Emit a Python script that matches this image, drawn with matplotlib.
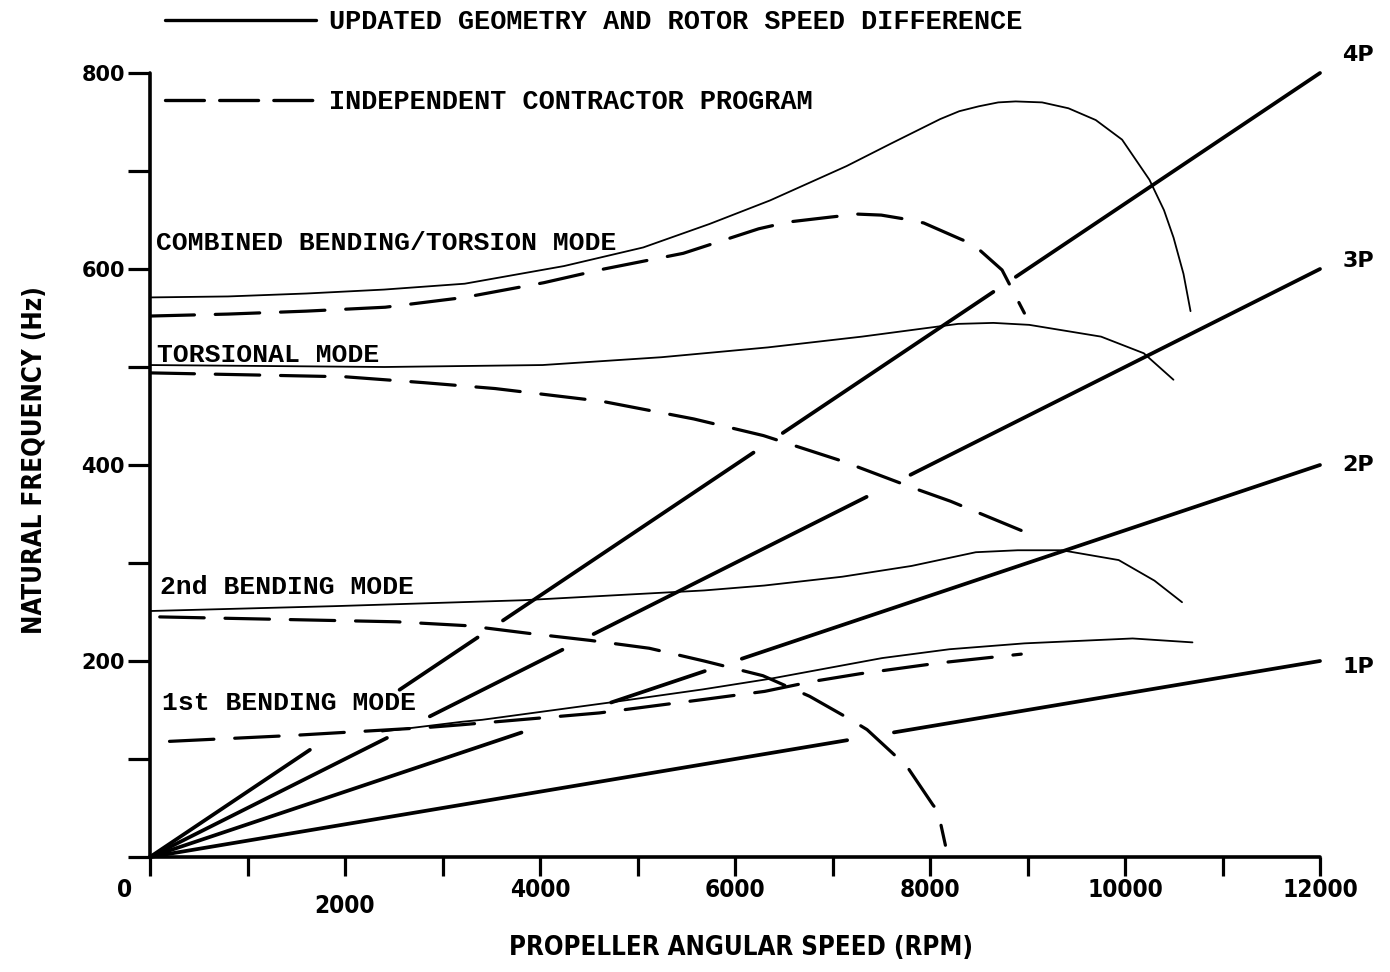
import matplotlib
matplotlib.use("Agg")
import matplotlib.pyplot as plt
from matplotlib import font_manager
from matplotlib.lines import Line2D
from matplotlib.transforms import ScaledTranslation

plt.rcParams['lines.scale_dashes'] = False

# ---------------------------------------------------------------- data
rpm_ticks = list(range(0, 12001, 1000))
rpm_tick_labels = ['0', '', '2000', '', '4000', '', '6000', '', '8000', '', '10000', '', '12000']
hz_ticks = list(range(0, 801, 100))
hz_tick_labels = ['', '', '200', '', '400', '', '600', '', '800']

# excitation orders (n per rev) and the RPM spans where each ray is inked
orders = [1, 2, 3, 4]
order_labels = ['1P', '2P', '3P', '4P']
order_spans = {
    1: [(0, 7150), (7630, 12000)],
    2: [(0, 3810), (4730, 5690), (6070, 12000)],
    3: [(0, 2430), (2870, 4230), (4550, 7350), (7800, 12000)],
    4: [(0, 1640), (2560, 3360), (3620, 6190), (6490, 8650), (8880, 12000)],
}

# updated geometry and rotor speed difference (solid)
comb_rpm = [0, 800, 1605, 2400, 3228, 4246, 5059, 5740, 6360, 7144, 7600, 8105,
            8300, 8500, 8700, 8878, 9150, 9420, 9700, 9970, 10251, 10400, 10498,
            10600, 10672]
comb_hz = [571, 572, 575, 579, 585, 603, 622, 646, 670, 705, 728, 753,
           761, 766, 770, 771, 770, 764, 752, 732, 691, 660, 632,
           595, 557]
tors_rpm = [0, 2404, 4026, 5248, 6337, 7302, 8289, 8650, 9018, 9754, 10193, 10497]
tors_hz = [502, 500, 502, 510, 520, 531, 544, 545, 543, 531, 514, 487]
bend2_rpm = [0, 1900, 3825, 5684, 6300, 7100, 7811, 8470, 8900, 9353, 9935, 10302, 10585]
bend2_hz = [251, 256, 262, 272, 277, 286, 297, 311, 313, 313, 303, 282, 260]
bend1_rpm = [2380, 3201, 3407, 4743, 5668, 6368, 7510, 8200, 8969, 10078, 10692]
bend1_hz = [128, 138, 140, 158, 171, 182, 203, 212, 218, 223, 219]

# independent contractor program (dashed)
comb_ic_rpm = [0, 800, 1602, 2413, 3225, 4038, 4656, 5469, 6242, 6551, 6982, 7260,
               7500, 7741, 7935, 8302, 8445, 8739, 8968]
comb_ic_hz = [552, 554, 557, 561, 571, 586, 600, 616, 641, 648, 653, 656,
              655, 651, 647, 631, 625, 599, 555]
tors_ic_rpm = [0, 2003, 2812, 3540, 4636, 5577, 6292, 7099, 7844, 8211, 8965]
tors_ic_hz = [494, 490, 484, 478, 465, 447, 430, 404, 376, 363, 332]
bend2_ic_rpm = [100, 2529, 3257, 3902, 4517, 5121, 5683, 6286, 6765, 7172, 7354,
                7659, 7780, 8031, 8081, 8158]
bend2_ic_hz = [245, 240, 236, 228, 221, 213, 200, 185, 164, 141, 130,
               102, 90, 53, 47, 12]
bend1_ic_rpm = [200, 1455, 2820, 3201, 4608, 5697, 6304, 6788, 7282, 8093, 8936]
bend1_ic_hz = [118, 124, 132, 135, 147, 161, 169, 179, 187, 198, 207]

mode_labels = ['COMBINED BENDING/TORSION MODE', 'TORSIONAL MODE',
               '2nd BENDING MODE', '1st BENDING MODE']
mode_label_rpm = [60, 70, 100, 120]
mode_label_hz = [627, 512, 276, 157]

legend_labels = ['UPDATED GEOMETRY AND ROTOR SPEED DIFFERENCE',
                 'INDEPENDENT CONTRACTOR PROGRAM']

# ---------------------------------------------------------------- fonts
installed = {f.name for f in font_manager.fontManager.ttflist}
narrow = 'Liberation Sans Narrow' if 'Liberation Sans Narrow' in installed else None
if narrow:
    narrow_font = dict(family=[narrow, 'DejaVu Sans'], weight='bold')
    title_size, xtick_size = 21, 22
else:
    narrow_font = dict(family=['DejaVu Sans'], weight='bold', stretch='condensed')
    title_size, xtick_size = 18.5, 17.5
type_font = dict(family=['Liberation Mono', 'DejaVu Sans Mono'], weight='bold')
heavy_font = dict(family=['DejaVu Sans'], weight='bold')

# ---------------------------------------------------------------- figure
fig = plt.figure(figsize=(13.9, 9.72), dpi=100)
fig.patch.set_facecolor('white')
ax = fig.add_axes([150 / 1390, 115 / 972, 1228.5 / 1390, 823.2 / 972])
ax.set_xlim(0, 12600)
ax.set_ylim(0, 840)

for side in ('top', 'right'):
    ax.spines[side].set_visible(False)
ax.spines['left'].set_bounds(0, 800)
ax.spines['bottom'].set_bounds(0, 12000)
for side in ('left', 'bottom'):
    ax.spines[side].set_linewidth(2.6)
    ax.spines[side].set_capstyle('round')

# per-rev excitation rays
for n in orders:
    for r0, r1 in order_spans[n]:
        ax.plot([r0, r1], [n * r0 / 60.0, n * r1 / 60.0], color='black', lw=2.7,
                solid_capstyle='round', clip_on=False, zorder=3)

solid_kw = dict(color='black', lw=1.3, solid_capstyle='round', solid_joinstyle='round', zorder=2)
dash_kw = dict(color='black', lw=2.3, dashes=(32, 15), dash_capstyle='round',
               dash_joinstyle='round', zorder=2)

ax.plot(comb_rpm, comb_hz, **solid_kw)
ax.plot(tors_rpm, tors_hz, **solid_kw)
ax.plot(bend2_rpm, bend2_hz, **solid_kw)
ax.plot(bend1_rpm, bend1_hz, **solid_kw)

ax.plot(comb_ic_rpm, comb_ic_hz, **dash_kw)
ax.plot(tors_ic_rpm, tors_ic_hz, **dash_kw)
ax.plot(bend2_ic_rpm, bend2_ic_hz, **dash_kw)
ax.plot(bend1_ic_rpm, bend1_ic_hz, **dash_kw)

# mode names
for txt, xr, yh in zip(mode_labels, mode_label_rpm, mode_label_hz):
    ax.text(xr, yh, txt, ha='left', va='center', fontsize=19, **type_font)

# order labels at the end of each ray
order_label_offset = {1: -6, 2: 0, 3: 8, 4: 18}
for n, lab in zip(orders, order_labels):
    ax.text(12390, n * 200 + order_label_offset[n], lab, ha='center', va='center',
            fontsize=16, clip_on=False, **heavy_font)

# ticks
ax.set_xticks(rpm_ticks)
ax.set_xticklabels(rpm_tick_labels, fontsize=xtick_size, **narrow_font)
ax.set_yticks(hz_ticks)
ax.set_yticklabels(hz_tick_labels, fontsize=15, **heavy_font)
ax.tick_params(axis='x', direction='out', length=14, width=2.3, pad=1)
ax.tick_params(axis='y', direction='out', length=16, width=2.3, pad=2)

for lab in ax.get_xticklabels():
    if lab.get_text() == '0':
        lab.set_transform(lab.get_transform() + ScaledTranslation(-0.25, 0.0, fig.dpi_scale_trans))
    elif lab.get_text() == '2000':
        lab.set_transform(lab.get_transform() + ScaledTranslation(0.0, -0.16, fig.dpi_scale_trans))

# axis titles
ax.set_xlabel('PROPELLER ANGULAR SPEED (RPM)', fontsize=title_size, va='center', **narrow_font)
ax.xaxis.set_label_coords(0.481, -0.1105)
ax.set_ylabel('NATURAL FREQUENCY (Hz)', fontsize=title_size, va='center', ha='center', **narrow_font)
ax.yaxis.set_label_coords(-0.094, 0.482)

# key
handles = [Line2D([], [], color='black', lw=2.4, solid_capstyle='round'),
           Line2D([], [], color='black', lw=2.4, dashes=(28, 11), dash_capstyle='round')]
fig.legend(handles, legend_labels, loc='upper left',
           bbox_to_anchor=(165 / 1390, 1 - 9 / 972), bbox_transform=fig.transFigure,
           frameon=False, handlelength=5.6, handletextpad=0.5, labelspacing=2.02,
           borderpad=0, borderaxespad=0,
           prop=font_manager.FontProperties(family=['Liberation Mono', 'DejaVu Sans Mono'],
                                            weight='bold', size=19.4))

fig.savefig('out.png', dpi=100, facecolor='white')
